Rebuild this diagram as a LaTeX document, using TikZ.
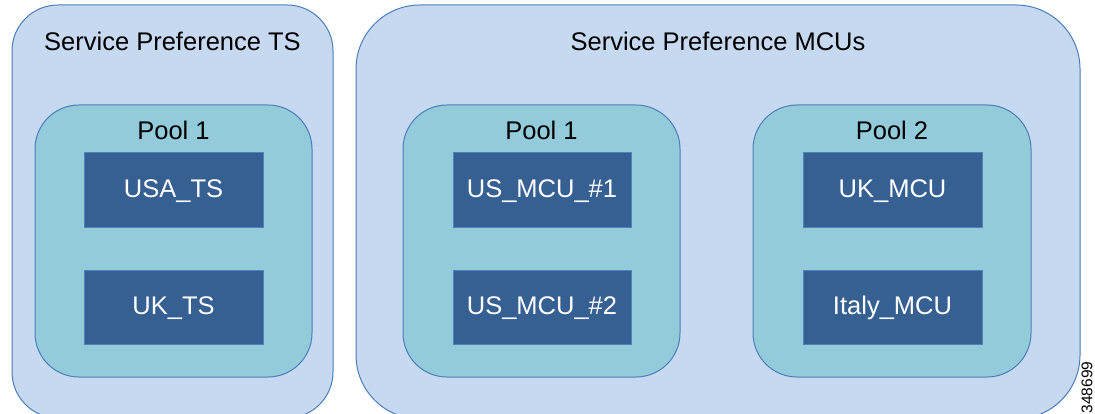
\documentclass[tikz,border=0pt]{standalone}
\usepackage{fontspec}
\setmainfont{Liberation Sans}
\definecolor{outerfill}{HTML}{C6D9F0}
\definecolor{outerdraw}{HTML}{4A7EBB}
\definecolor{poolfill}{HTML}{93CBDB}
\definecolor{innerfill}{HTML}{376092}
\definecolor{innerdraw}{HTML}{4F81BD}
\tikzset{
  outerbox/.style={fill=outerfill, draw=outerdraw, line width=1pt},
  poolbox/.style={fill=poolfill, draw=outerdraw, line width=1pt},
  innerbox/.style={fill=innerfill, draw=innerdraw, line width=1pt},
  bigtxt/.style={font=\fontsize{25.5}{28}\selectfont, text=black, inner sep=0pt},
  whitetxt/.style={font=\fontsize{25.5}{28}\selectfont, text=white, inner sep=0pt},
}
\begin{document}
\begin{tikzpicture}[x=1pt,y=-1pt]
\useasboundingbox (0,0) rectangle (1095,414);
\clip (0,0) rectangle (1095,414);
% outer containers
\draw[outerbox, rounded corners=46pt] (12,5) rectangle (333,418);
\draw[outerbox, rounded corners=64pt] (356,5) rectangle (1080,419);
\node[bigtxt] (t1) at (172.5,41) {Service Preference TS};
\node[bigtxt] (t2) at (718,41) {Service Preference MCUs};
% pools
\draw[poolbox, rounded corners=44pt] (35,105) rectangle (312,377);
\draw[poolbox, rounded corners=44pt] (403,105) rectangle (680,377);
\draw[poolbox, rounded corners=44pt] (753,105) rectangle (1031,377);
\node[bigtxt] (p1) at (173.5,130) {Pool 1};
\node[bigtxt] (p2) at (541.5,130) {Pool 1};
\node[bigtxt] (p3) at (892,130) {Pool 2};
% inner boxes
\draw[innerbox] (84,153) rectangle (263,228);
\draw[innerbox] (84,270) rectangle (263,344);
\draw[innerbox] (453,153) rectangle (631,228);
\draw[innerbox] (453,270) rectangle (631,344);
\draw[innerbox] (803,153) rectangle (982,228);
\draw[innerbox] (803,270) rectangle (982,344);
\node[whitetxt] (a1) at (173.5,191) {USA\_TS};
\node[whitetxt] (a2) at (173.5,308) {UK\_TS};
\node[whitetxt] (b1) at (542,191) {US\_MCU\_\#1};
\node[whitetxt] (b2) at (542,308) {US\_MCU\_\#2};
\node[whitetxt] (c1) at (892.5,191) {UK\_MCU};
\node[whitetxt] (c2) at (892.5,308) {Italy\_MCU};
% figure number
\node[font=\fontsize{15.5}{17}\selectfont, rotate=90, inner sep=0pt] (fig) at (1087,387.5) {348699};
\end{tikzpicture}
\end{document}
